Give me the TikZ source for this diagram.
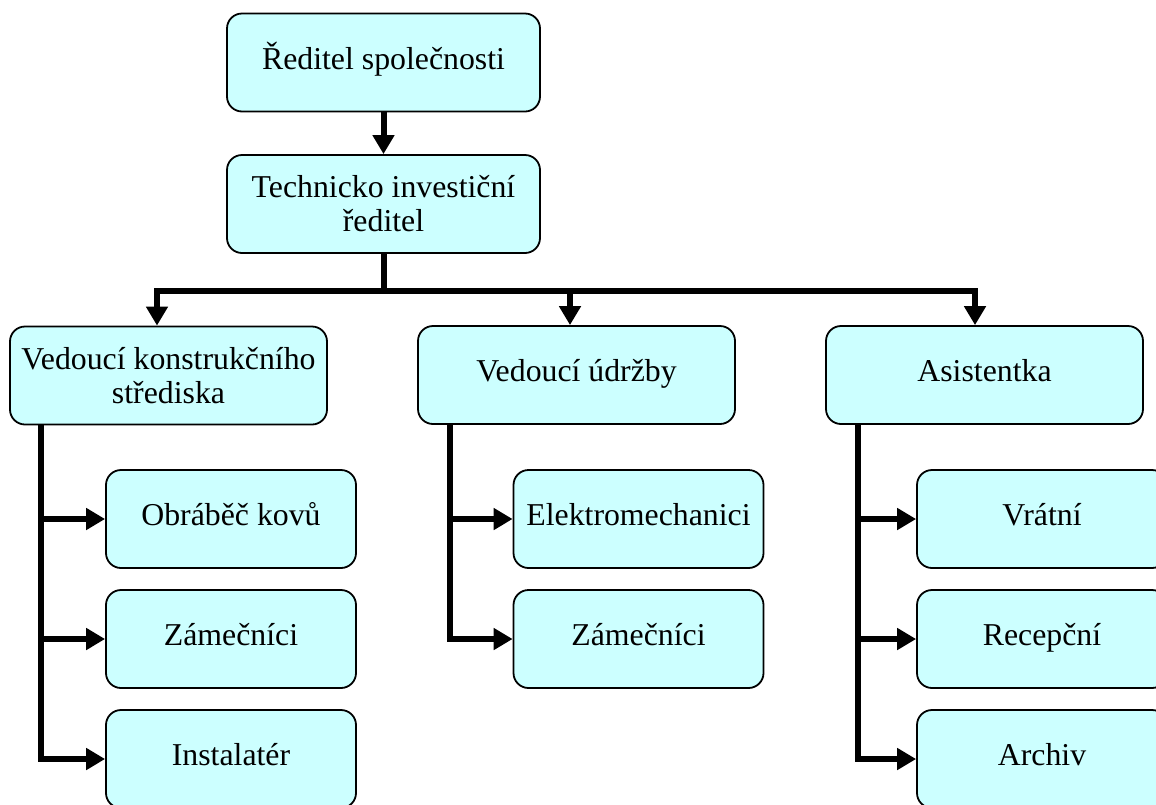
\documentclass[tikz,border=0pt]{standalone}
\usepackage{fontspec}
\setmainfont{Liberation Serif}
\usetikzlibrary{arrows.meta}
\definecolor{boxfill}{RGB}{204,255,255}
\tikzset{
  orgbox/.style={draw=black, line width=1.8pt, fill=boxfill, rounded corners=15pt,
    minimum width=317pt, minimum height=98pt, inner sep=2pt, align=center,
    font=\fontsize{31.8pt}{34pt}\selectfont},
  oneline/.style={orgbox, text height=22pt, text depth=9pt},
  subbox/.style={oneline, minimum width=250pt},
  link/.style={line width=6pt, line join=miter},
  linkarrow/.style={link, -{Triangle[length=19pt,width=21pt]}}
}
\begin{document}
\begin{tikzpicture}[x=1pt, y=-1pt]
\path[use as bounding box, clip] (0,0) rectangle (1156,804);

% top of the hierarchy
\node[oneline, minimum width=313pt] (ceo) at (383.5,62.5) {Ředitel společnosti};
\node[orgbox, minimum width=313pt] (tech) at (383.5,204) {Technicko investiční\\ředitel};

% second level
\node[orgbox] (kon) at (168.5,375.5) {Vedoucí konstrukčního\\střediska};
\node[oneline] (udr) at (576.5,375) {Vedoucí údržby};
\node[oneline] (asi) at (984.5,375) {Asistentka};

% third level
\node[subbox] (obr) at (231,519) {Obráběč kovů};
\node[subbox] (zam1) at (231,639) {Zámečníci};
\node[subbox] (ins) at (231,759) {Instalatér};

\node[subbox] (ele) at (638.5,519) {Elektromechanici};
\node[subbox] (zam2) at (638.5,639) {Zámečníci};

\node[subbox] (vra) at (1042,519) {Vrátní};
\node[subbox] (rec) at (1042,639) {Recepční};
\node[subbox] (arc) at (1042,759) {Archiv};

% connectors between the upper levels
\draw[linkarrow] (ceo.south) -- (tech.north);

\coordinate (bus) at (0,291);
\coordinate (konin) at ([xshift=-11.5pt]kon.north);
\coordinate (udrin) at ([xshift=-6.5pt]udr.north);
\coordinate (asiin) at ([xshift=-9.5pt]asi.north);

\draw[linkarrow] (tech.south) -- (tech.south |- bus) -| (konin);
\draw[linkarrow] (tech.south |- bus) -| (asiin);
\draw[linkarrow] (udrin |- bus) -- (udrin);

% branches down to the third level
\coordinate (t1) at ([xshift=32pt]kon.south west);
\coordinate (t2) at ([xshift=33pt]udr.south west);
\coordinate (t3) at ([xshift=33pt]asi.south west);

\draw[linkarrow] (t1) |- (ins.west);
\draw[linkarrow] (t1 |- obr.west) -- (obr.west);
\draw[linkarrow] (t1 |- zam1.west) -- (zam1.west);

\draw[linkarrow] (t2) |- (zam2.west);
\draw[linkarrow] (t2 |- ele.west) -- (ele.west);

\draw[linkarrow] (t3) |- (arc.west);
\draw[linkarrow] (t3 |- vra.west) -- (vra.west);
\draw[linkarrow] (t3 |- rec.west) -- (rec.west);
\end{tikzpicture}
\end{document}
